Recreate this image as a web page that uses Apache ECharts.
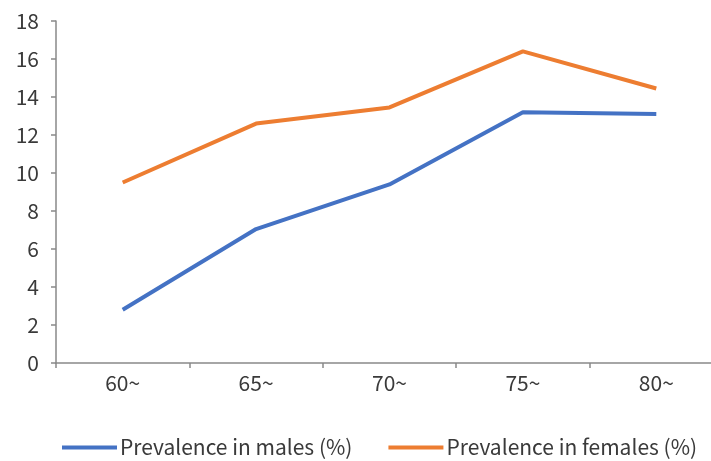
<!DOCTYPE html>
<html><head><meta charset="utf-8">
<script src="https://cdn.jsdelivr.net/npm/echarts@6/dist/echarts.min.js"></script>
<style>html,body{margin:0;padding:0;background:#fff}#c{width:711px;height:461px}</style>
</head><body><div id="c"></div>
<script>
const categories = ["60~", "65~", "70~", "75~", "80~"];
const males = [2.8, 7.05, 9.4, 13.2, 13.1];
const females = [9.5, 12.6, 13.45, 16.4, 14.45];
const yTicks = {min: 0, max: 18, interval: 2};

const font = '"Noto Sans CJK SC", "Noto Sans", sans-serif';
const chart = echarts.init(document.getElementById('c'));
chart.setOption({
  animation: false,
  grid: {left: 56, top: 21, width: 667, height: 342, outerBoundsMode: 'none', containLabel: false},
  xAxis: {
    type: 'category', data: categories, boundaryGap: true,
    axisLine: {lineStyle: {color: '#898989', width: 1.5}},
    axisTick: {show: true, length: 5, lineStyle: {color: '#898989', width: 1.5}},
    axisLabel: {color: '#3a3a3a', fontSize: 21, fontFamily: font, margin: 10}
  },
  yAxis: {
    type: 'value', min: yTicks.min, max: yTicks.max, interval: yTicks.interval,
    splitLine: {show: false},
    axisLine: {show: true, lineStyle: {color: '#898989', width: 1.5}},
    axisTick: {show: true, length: 5, lineStyle: {color: '#898989', width: 1.5}},
    axisLabel: {color: '#3a3a3a', fontSize: 21, fontFamily: font, margin: 17}
  },
  legend: {
    top: 432, left: 57, width: 690, itemWidth: 55, itemHeight: 4, itemGap: 36,
    icon: 'rect',
    textStyle: {color: '#3a3a3a', fontSize: 21, fontFamily: font, padding: [0,0,0,-2]},
    data: ['Prevalence in males (%)', 'Prevalence in females (%)']
  },
  series: [
    {name: 'Prevalence in males (%)', type: 'line', data: males, symbol: 'none',
     lineStyle: {color: '#4472C4', width: 4}, itemStyle: {color: '#4472C4'}},
    {name: 'Prevalence in females (%)', type: 'line', data: females, symbol: 'none',
     lineStyle: {color: '#ED7D31', width: 4}, itemStyle: {color: '#ED7D31'}}
  ]
});
</script></body></html>
